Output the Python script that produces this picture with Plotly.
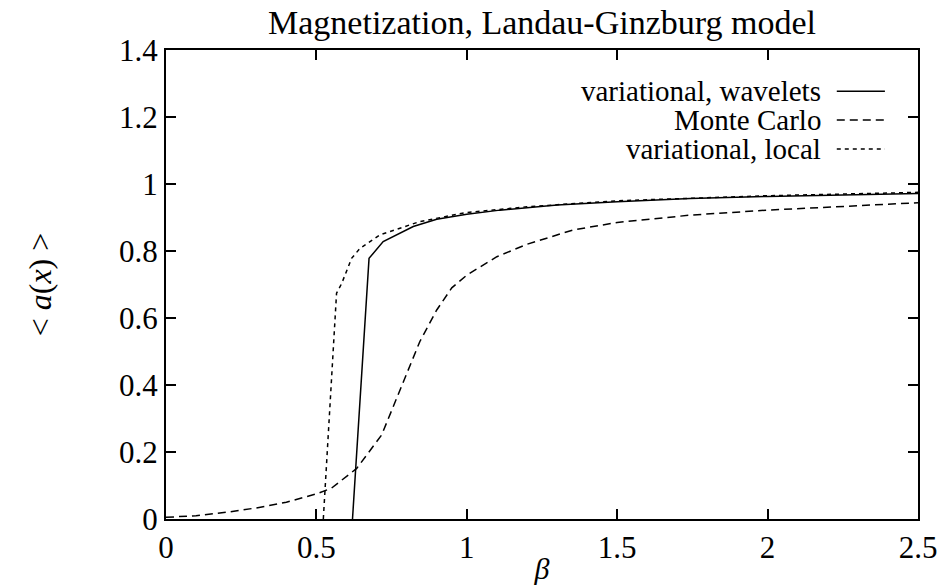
import plotly.graph_objects as go

# Data
beta_wav = [0.62, 0.675, 0.722, 0.822, 0.9, 1.0, 1.11, 1.3, 1.5, 1.742, 2.0, 2.25, 2.5]
mag_wav = [0.0, 0.778, 0.828, 0.873, 0.895, 0.91, 0.922, 0.937, 0.947, 0.957, 0.963, 0.968, 0.972]

beta_mc = [0.0, 0.1, 0.2, 0.3, 0.4, 0.5, 0.55, 0.634, 0.717, 0.778, 0.844, 0.9, 0.95, 1.0, 1.1,
           1.2, 1.354, 1.5, 1.742, 2.0, 2.25, 2.5]
mag_mc = [0.005, 0.01, 0.02, 0.033, 0.05, 0.075, 0.092, 0.151, 0.251, 0.385, 0.53, 0.624, 0.69,
          0.728, 0.783, 0.82, 0.863, 0.885, 0.907, 0.922, 0.934, 0.944]

beta_loc = [0.523, 0.567, 0.584, 0.617, 0.645, 0.711, 0.844, 1.0, 1.2, 1.5, 2.0, 2.5]
mag_loc = [0.0, 0.674, 0.703, 0.778, 0.808, 0.848, 0.888, 0.915, 0.932, 0.95, 0.965, 0.975]

labels = ["variational, wavelets", "Monte Carlo", "variational, local"]
dashes = ["solid", "8px,5px", "4px,4px"]

FONT = "Liberation Serif"
FS = 32

fig = go.Figure()
series = [(beta_wav, mag_wav), (beta_mc, mag_mc), (beta_loc, mag_loc)]
for (xs, ys), name, d in zip(series, labels, dashes):
    fig.add_trace(go.Scatter(x=xs, y=ys, mode="lines", name=name,
                             line=dict(color="black", width=1.5, dash=d),
                             showlegend=False))

# Custom legend: text right-aligned, line sample to the right
leg_y = [0.912, 0.851, 0.789]
for name, d, yy in zip(labels, dashes, leg_y):
    fig.add_annotation(x=0.872, y=yy, xref="paper", yref="paper", text=name,
                       showarrow=False, xanchor="right", yanchor="middle", borderpad=0,
                       font=dict(family=FONT, size=29, color="black"))
    fig.add_shape(type="line", xref="paper", yref="paper", x0=0.892, x1=0.956,
                  y0=yy, y1=yy, line=dict(color="black", width=1.5, dash=d))

axis_common = dict(showline=True, linecolor="black", linewidth=2, mirror="ticks",
                   ticks="inside", ticklen=10, tickwidth=2, tickcolor="black",
                   showgrid=False, zeroline=False, automargin=False,
                   tickfont=dict(family=FONT, size=FS - 1, color="black"))

fig.update_xaxes(range=[0, 2.5], tickvals=[0, 0.5, 1, 1.5, 2, 2.5],
                 ticktext=["0", "0.5", "1", "1.5", "2", "2.5"],
                 title=dict(text="<i>β</i>", font=dict(family=FONT, size=FS - 2, color="black"),
                            standoff=0),
                 **axis_common)
fig.update_yaxes(range=[0, 1.4], tickvals=[0, 0.2, 0.4, 0.6, 0.8, 1, 1.2, 1.4],
                 ticktext=["0", "0.2", "0.4", "0.6", "0.8", "1", "1.2", "1.4"],
                 title=dict(text="&lt; <i>a</i>(<i>x</i>) &gt;",
                            font=dict(family=FONT, size=FS, color="black"), standoff=58),
                 **axis_common)

fig.update_layout(
    width=938, height=585,
    margin=dict(l=166, r=20, t=50, b=66),
    plot_bgcolor="white", paper_bgcolor="white",
    title=dict(text="Magnetization, Landau-Ginzburg model", x=0.5, xanchor="center",
               xref="paper", y=0.962, yanchor="middle",
               font=dict(family=FONT, size=FS + 2, color="black")),
)

fig.write_html("out.html")
